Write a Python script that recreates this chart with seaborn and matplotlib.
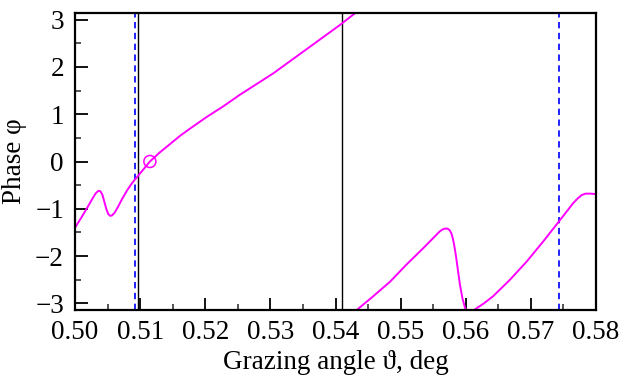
import matplotlib
matplotlib.use("Agg")
import matplotlib.pyplot as plt
import seaborn as sns
import numpy as np
import pandas as pd
from matplotlib.ticker import MultipleLocator, FuncFormatter

# Data
seg1_x = [0.5000, 0.5010, 0.5020, 0.5027, 0.5032, 0.5036, 0.5039, 0.5042, 0.5045,
          0.5048, 0.5051, 0.5054, 0.5057, 0.5061, 0.5066, 0.5072, 0.5080, 0.5088,
          0.5097, 0.5106, 0.5115, 0.5130, 0.5146, 0.5161, 0.5177, 0.5202, 0.5228,
          0.5253, 0.5279, 0.5305, 0.5330, 0.5356, 0.5381, 0.5407, 0.5433]
seg1_y = [-1.40, -1.18, -0.95, -0.78, -0.67, -0.62, -0.63, -0.70, -0.85,
          -1.00, -1.11, -1.15, -1.14, -1.08, -0.96, -0.80, -0.61, -0.45,
          -0.30, -0.15, 0.00, 0.19, 0.37, 0.54, 0.70, 0.94, 1.17,
          1.41, 1.64, 1.87, 2.12, 2.38, 2.63, 2.89, 3.17]

seg2_x = [0.5431, 0.5458, 0.5484, 0.5509, 0.5535, 0.5560, 0.5564, 0.5568, 0.5572,
          0.5575, 0.5578, 0.5580, 0.5582, 0.5585, 0.5588, 0.5591, 0.5595, 0.5599,
          0.5603, 0.5608, 0.5614, 0.5628, 0.5642, 0.5668, 0.5694, 0.5719, 0.5743,
          0.5765, 0.5772, 0.5778, 0.5784, 0.5792, 0.5800]
seg2_y = [-3.16, -2.85, -2.54, -2.18, -1.83, -1.48, -1.44, -1.42, -1.42,
          -1.45, -1.52, -1.62, -1.75, -2.00, -2.30, -2.60, -2.90, -3.10,
          -3.20, -3.19, -3.13, -3.00, -2.85, -2.50, -2.11, -1.69, -1.27,
          -0.88, -0.78, -0.71, -0.68, -0.68, -0.69]

marker_x = [0.5115]
marker_y = [0.0]

black_lines = [0.5097, 0.5410]
blue_lines = [0.5092, 0.5743]

x_ticks = [0.50, 0.51, 0.52, 0.53, 0.54, 0.55, 0.56, 0.57, 0.58]
y_ticks = [-3, -2, -1, 0, 1, 2, 3]

sns.set_theme(style="white")
plt.rcParams["font.family"] = ["Liberation Serif", "DejaVu Serif"]
plt.rcParams["mathtext.fontset"] = "stix"

fig = plt.figure(figsize=(6.21, 3.81), dpi=100)
ax = fig.add_axes([75/621, 1-310/381, (596-75)/621, (310-13)/381])

df1 = pd.DataFrame({"x": seg1_x, "y": seg1_y})
df2 = pd.DataFrame({"x": seg2_x, "y": seg2_y})
sns.lineplot(data=df1, x="x", y="y", ax=ax, color="#ff00ff", lw=1.4, sort=False, estimator=None)
sns.lineplot(data=df2, x="x", y="y", ax=ax, color="#ff00ff", lw=1.4, sort=False, estimator=None)

for xv in black_lines:
    ax.axvline(xv, color="black", lw=1.0, zorder=1)
for xv in blue_lines:
    ax.axvline(xv, color="#1010ff", lw=1.3, ls=(0, (3.5, 2.5)), zorder=1)

sns.scatterplot(x=marker_x, y=marker_y, ax=ax, s=75, facecolor="none",
                edgecolor="#ff00ff", linewidth=1.1, zorder=5)

ax.set_xlim(0.50, 0.58)
ax.set_ylim(-np.pi, np.pi)
ax.set_xticks(x_ticks)
ax.set_yticks(y_ticks)
ax.xaxis.set_minor_locator(MultipleLocator(0.005))
ax.yaxis.set_minor_locator(MultipleLocator(0.5))
ax.xaxis.set_major_formatter(FuncFormatter(lambda v, p: f"{v:.2f}"))
ax.yaxis.set_major_formatter(FuncFormatter(lambda v, p: f"{int(round(v))}".replace("-", "\u2212")))

ax.tick_params(axis="both", which="major", direction="in", length=9, width=1.3,
               labelsize=19.5, colors="black", bottom=True, left=True, top=False, right=False)
ax.tick_params(axis="both", which="minor", direction="in", length=4.5, width=1.1,
               bottom=True, left=True, top=False, right=False)
ax.tick_params(axis="x", which="major", pad=7)
ax.tick_params(axis="y", which="major", pad=8)

for sp in ax.spines.values():
    sp.set_visible(True)
    sp.set_color("black")
    sp.set_linewidth(1.6)

ax.set_xlabel("Grazing angle \u03d1, deg", fontsize=19.5, color="black", labelpad=4)
ax.set_ylabel("Phase \u03c6", fontsize=19.5, color="black", labelpad=6)
ax.grid(False)

fig.savefig("out.png", dpi=100)
